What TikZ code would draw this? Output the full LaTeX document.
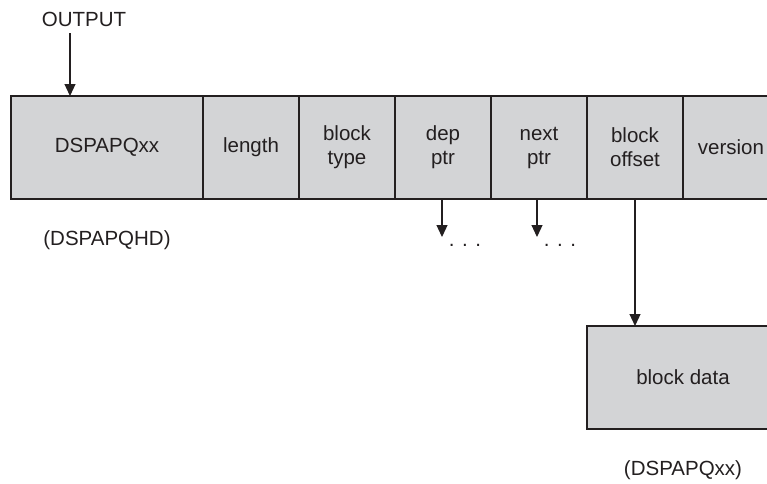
\documentclass[tikz,border=0pt]{standalone}
\usepackage{fontspec}
\setmainfont{Liberation Sans}
\usetikzlibrary{arrows.meta,calc,positioning}
\definecolor{cellgray}{RGB}{211,212,214}
\definecolor{ink}{RGB}{35,31,32}

\begin{document}
\begin{tikzpicture}[x=1pt,y=-1pt,
 font=\fontsize{20.5}{24}\selectfont,text=ink,
 cell/.style={draw=ink,line width=1.2pt,fill=cellgray,minimum height=103pt,
  minimum width=96pt,inner sep=0pt,outer sep=0pt,align=center},
 ptr/.style={draw=ink,line width=1.2pt,-{Triangle[length=12pt,width=11pt]}},
 more/.style={inner sep=1pt}]
\useasboundingbox (0,0) rectangle (767,483);
\clip (0,0) rectangle (767,483);
% header row
\node[cell,minimum width=192pt] (hd) at (107,147.5) {DSPAPQxx};
\node[cell,right=0pt of hd] (len) {length};
\node[cell,right=0pt of len] (typ) {block\\type};
\node[cell,right=0pt of typ] (dep) {dep\\ptr};
\node[cell,right=0pt of dep] (nxt) {next\\ptr};
\node[cell,right=0pt of nxt] (off) {block\\offset};
\node[cell,right=0pt of off] (ver) {version};
\node (outlbl) at (84,19) {OUTPUT};
\node (hdname) at (107,240) {(DSPAPQHD)};
% data block
\node[cell,minimum width=192pt] (data) at (683,377.5) {block data};
\node (dataname) at (683,470) {(DSPAPQxx)};
% pointers
\coordinate (outstart) at (70,33);
\draw[ptr] (outstart) -- (outstart |- hd.north);
\coordinate (deptip) at ($(dep.south)+(-1,38)$);
\coordinate (nxttip) at ($(nxt.south)+(-2,38)$);
\draw[ptr] (dep.south -| deptip) -- (deptip);
\draw[ptr] (nxt.south -| nxttip) -- (nxttip);
\node[more] (depmore) at ($(deptip)+(23,8)$) {.\hspace{7.5pt}.\hspace{7.5pt}.};
\node[more] (nxtmore) at ($(nxttip)+(23,8)$) {.\hspace{7.5pt}.\hspace{7.5pt}.};
\draw[ptr] (off.south) -- (off.south |- data.north);
\end{tikzpicture}
\end{document}
